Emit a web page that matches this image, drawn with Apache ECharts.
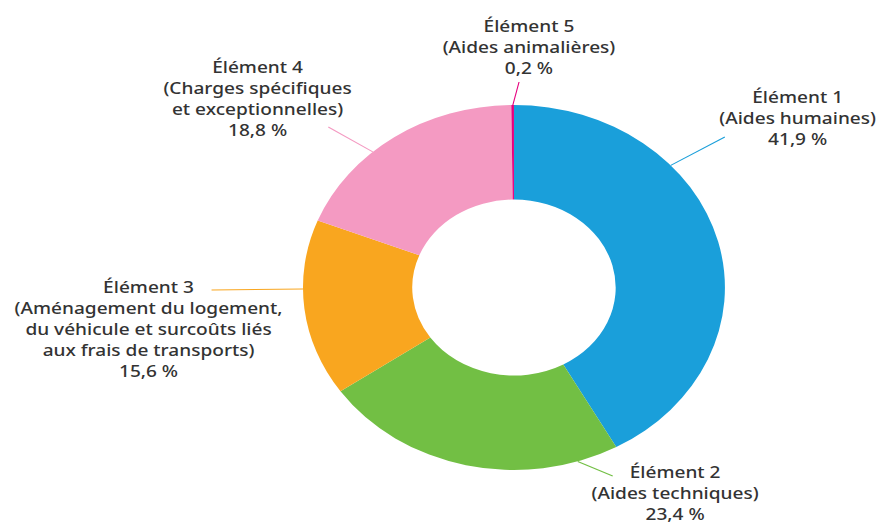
<!DOCTYPE html>
<html lang="fr">
<head>
    <meta charset="UTF-8">
    <title>Répartition des éléments</title>
    <script src="https://cdn.jsdelivr.net/npm/echarts@6/dist/echarts.min.js"></script>
    <style>
        html,body{margin:0;padding:0;width:885px;height:524px;overflow:hidden;background:#fff;}
        /* the reference is stretched horizontally, so the chart is drawn narrow then scaled */
        #chart{width:766px;height:524px;transform:scaleX(1.156);transform-origin:0 0;}
    </style>
</head>
<body>
<div id="chart"></div>
<script>
    // données
    let names = ['Élément 1', 'Élément 2', 'Élément 3', 'Élément 4', 'Élément 5'];
    let details = [
        '(Aides humaines)',
        '(Aides techniques)',
        '(Aménagement du logement,\ndu véhicule et surcoûts liés\naux frais de transports)',
        '(Charges spécifiques\net exceptionnelles)',
        '(Aides animalières)'
    ];
    let values = [41.9, 23.4, 15.6, 18.8, 0.2];
    let colors = ['#1a9fda', '#72bf44', '#f9a61f', '#f49ac2', '#e6007e'];

    // mise en page des étiquettes (coordonnées du graphique non étiré)
    let center = [444.6, 287.5];
    let radius = [88, 182.5];
    let labelCenter = [[690, 117.5], [584, 492.5], [128.5, 328.5], [222.8, 98.5], [457.6, 47]];
    let lineAngle = [48, 162.4, 269.5, 318, 359.7];
    let lineEnd = [[627, 137], [530, 476], [183, 290], [284, 127], [449, 82]];

    let data = [];
    for (let i = 0; i < names.length; i++) {
        data.push({
            name: names[i],
            value: values[i],
            itemStyle: {color: colors[i]},
            labelLine: {lineStyle: {color: colors[i], width: 1}}
        });
    }

    let myChart = echarts.init(document.getElementById('chart'), null, {renderer: 'svg'});
    let option = {
        animation: false,
        series: [{
            type: 'pie',
            center: center,
            radius: radius,
            startAngle: 90,
            clockwise: true,
            avoidLabelOverlap: false,
            data: data,
            label: {
                show: true,
                position: 'outside',
                color: '#333333',
                fontFamily: 'Noto Sans',
                fontSize: 16.5,
                fontWeight: 500,
                lineHeight: 21,
                align: 'center',
                formatter: function (p) {
                    return p.name + '\n' + details[p.dataIndex] + '\n' +
                        p.value.toFixed(1).replace('.', ',') + ' %';
                }
            },
            labelLine: {show: true, length: 10, length2: 0, smooth: false},
            labelLayout: function (p) {
                let i = p.dataIndex;
                let a = lineAngle[i] * Math.PI / 180;
                let start = [center[0] + radius[1] * Math.sin(a), center[1] - radius[1] * Math.cos(a)];
                return {
                    x: labelCenter[i][0],
                    y: labelCenter[i][1],
                    align: 'center',
                    verticalAlign: 'middle',
                    labelLinePoints: [start, lineEnd[i]]
                };
            },
            emphasis: {disabled: true}
        }]
    };
    myChart.setOption(option);
</script>
</body>
</html>
